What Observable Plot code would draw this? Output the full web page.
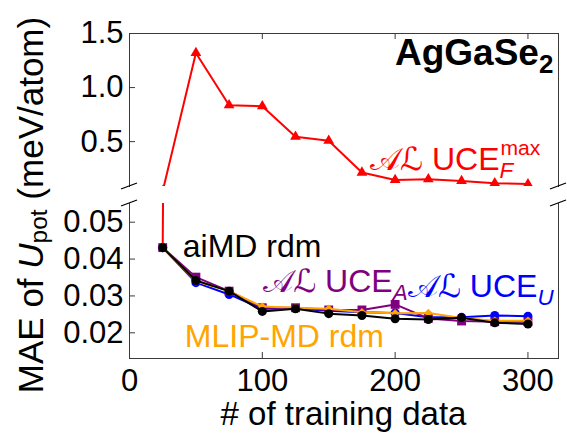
<!DOCTYPE html>
<html>
<head>
<meta charset="utf-8">
<script src="https://cdn.jsdelivr.net/npm/d3@7"></script>
<script src="https://cdn.jsdelivr.net/npm/@observablehq/plot@0.6"></script>
<style>
  body { margin: 0; background: white; }
  #chart { position: relative; width: 567px; height: 434px; background: white; }
  #ylab { position: absolute; left: 30px; top: 205px; transform: translate(-50%, -50%) rotate(-90deg);
          white-space: nowrap; font-family: "Liberation Sans", Arial, sans-serif; font-size: 35px; line-height: 1; color: black; }
  #ylab sub { font-size: 0.7em; position: relative; top: 0.15em; vertical-align: baseline; line-height: 0; }
</style>
</head>
<body>
<div id="chart"><div id="ylab">MAE of <i>U</i><sub>pot</sub> (meV/atom)</div></div>
<script>
// ---------- data ----------
const trainingData = [25, 50, 75, 100, 125, 150, 175, 200, 225, 250, 275, 300];
const uceFmax = [0.043, 1.32, 0.837, 0.828, 0.545, 0.508, 0.214, 0.146, 0.153, 0.137, 0.116, 0.107];
const aimdRdm = [0.0431, 0.0342, 0.0313, 0.0258, 0.0265, 0.0252, 0.0247, 0.0238, 0.0236, 0.0241, 0.0227, 0.0224];
const uceA    = [0.0431, 0.0351, 0.0313, 0.0268, 0.0268, 0.0262, 0.0262, 0.0277, 0.0239, 0.0232, 0.0230, 0.0230];
const uceU    = [0.0431, 0.0336, 0.0304, 0.0265, 0.0266, 0.0260, 0.0256, 0.0254, 0.0242, 0.0242, 0.0247, 0.0245];
const mlipRdm = [0.0431, 0.0340, 0.0313, 0.0271, 0.0268, 0.0265, 0.0256, 0.0253, 0.0254, 0.0240, 0.0233, 0.0233];
const xTicks = [0, 100, 200, 300];
const topTicks = [0.5, 1.0, 1.5];
const bottomTicks = [0.02, 0.03, 0.04, 0.05];
const xDomain = [0, 323];
const topDomain = [0.085, 1.5];
const bottomDomain = [0.01303, 0.05507];

const rows = vals => trainingData.map((x, i) => ({x, y: vals[i]}));
const FONT = "Liberation Sans, Arial, sans-serif";
const CAL = "DejaVu Serif, DejaVu Sans, serif";
const frameColor = "#3a3a3a";

// rich text annotation (baseline positioned) through the plot's scales
function rich(parts, o) {
  return (index, scales, values, dims) => {
    const fs = o.fontSize;
    const px = o.frameCenter ? (dims.marginLeft + (dims.width - dims.marginRight)) / 2 : scales.x(o.x);
    const py = o.frameBottom ? dims.height - dims.marginBottom + o.dy : scales.y(o.y);
    const t = d3.create("svg:text")
      .attr("x", px).attr("y", py)
      .attr("fill", o.fill || "black")
      .attr("font-family", FONT)
      .attr("font-size", fs)
      .attr("font-weight", o.weight || "normal")
      .attr("text-anchor", o.anchor || "start");
    let shift = 0;
    for (const p of parts) {
      const ts = t.append("tspan").text(p.t);
      const target = (p.shift || 0) * fs;
      const dy = target - shift; shift = target;
      if (dy) ts.attr("dy", dy);
      if (p.size) ts.attr("font-size", p.size * fs);
      if (p.italic) ts.attr("font-style", "italic");
      if (p.dx) ts.attr("dx", p.dx * fs);
      if (p.family) ts.attr("font-family", p.family);
    }
    const g = d3.create("svg:g");
    g.node().appendChild(t.node());
    return g.node();
  };
}

function breakMarks(where) {
  return (index, scales, values, dims) => {
    const y = where === "bottom" ? dims.height - dims.marginBottom : dims.marginTop;
    const xl = dims.marginLeft, xr = dims.width - dims.marginRight;
    const g = d3.create("svg:g").attr("stroke", "black").attr("stroke-width", 1.3);
    for (const x of [xl, xr]) {
      g.append("line").attr("x1", x - 8).attr("y1", y + 3).attr("x2", x + 8).attr("y2", y - 3);
    }
    return g.node();
  };
}

const W = 567;

// ---------- top panel ----------
const topPlot = Plot.plot({
  width: W, height: 190,
  marginTop: 33, marginBottom: 4, marginLeft: 129, marginRight: 9,
  x: {domain: xDomain, axis: null},
  y: {domain: topDomain},
  style: {fontFamily: FONT, background: "white", overflow: "visible"},
  marks: [
    Plot.axisY(topTicks, {tickSize: 0, tickPadding: 6, fontSize: 31, tickFormat: d3.format(".1f"), label: null}),
    Plot.frame({anchor: "top", stroke: frameColor}),
    Plot.frame({anchor: "left", stroke: frameColor}),
    Plot.frame({anchor: "right", stroke: frameColor}),
    Plot.ruleX(xTicks.filter(d => d > 0), {x: d => d, insetBottom: 147, stroke: frameColor}),
    Plot.ruleY(topTicks, {y: d => d, insetRight: 423, stroke: frameColor}),
    breakMarks("bottom"),
    Plot.line(rows(uceFmax), {x: "x", y: "y", stroke: "#ff0000", strokeWidth: 2, clip: true}),
    Plot.dot(rows(uceFmax), {x: "x", y: "y", symbol: "triangle", r: 4, fill: "#ff0000", clip: true}),
    rich([{t: "AgGaSe"}, {t: "2", size: 0.7, shift: 0.22}], {x: 319.5, y: 1.204, fontSize: 37, weight: "bold", anchor: "end"}),
    rich([{t: "𝒜ℒ", family: CAL, italic: false}, {t: " UCE"}, {t: "F", size: 0.7, shift: 0.25, italic: true},
          {t: "max", size: 0.66, shift: -0.47, dx: -0.4}],
         {x: 181.5, y: 0.2326, fontSize: 32, fill: "#ff0000"})
  ]
});

// ---------- bottom panel ----------
const bottomPlot = Plot.plot({
  width: W, height: 244,
  marginTop: 13, marginBottom: 76, marginLeft: 129, marginRight: 9,
  x: {domain: xDomain},
  y: {domain: bottomDomain},
  style: {fontFamily: FONT, background: "white", overflow: "visible"},
  marks: [
    Plot.axisY(bottomTicks, {tickSize: 0, tickPadding: 6, fontSize: 31, tickFormat: d3.format(".2f"), label: null}),
    Plot.axisX(xTicks, {tickSize: 0, tickPadding: 10, fontSize: 31, label: null}),
    Plot.frame({anchor: "bottom", stroke: frameColor}),
    Plot.frame({anchor: "left", stroke: frameColor}),
    Plot.frame({anchor: "right", stroke: frameColor}),
    Plot.ruleX(xTicks.filter(d => d > 0), {x: d => d, insetTop: 149, stroke: frameColor}),
    Plot.ruleY(bottomTicks, {y: d => d, insetRight: 423, stroke: frameColor}),
    breakMarks("top"),
    Plot.line(rows(uceFmax), {x: "x", y: "y", stroke: "#ff0000", strokeWidth: 2, clip: true}),
    Plot.line(rows(uceU), {x: "x", y: "y", stroke: "#0000ff", strokeWidth: 2}),
    Plot.dot(rows(uceU), {x: "x", y: "y", r: 4.5, fill: "#0000ff"}),
    Plot.line(rows(uceA), {x: "x", y: "y", stroke: "#800080", strokeWidth: 2}),
    Plot.dot(rows(uceA), {x: "x", y: "y", symbol: "square", r: 5, fill: "#800080"}),
    Plot.line(rows(mlipRdm), {x: "x", y: "y", stroke: "#ffa500", strokeWidth: 2}),
    Plot.dot(rows(mlipRdm), {x: "x", y: "y", symbol: "diamond2", r: 3.8, fill: "#ffa500"}),
    Plot.line(rows(aimdRdm), {x: "x", y: "y", stroke: "black", strokeWidth: 2}),
    Plot.dot(rows(aimdRdm), {x: "x", y: "y", r: 4.5, fill: "black"}),
    rich([{t: "aiMD rdm"}], {x: 40.5, y: 0.0404, fontSize: 32, fill: "black"}),
    rich([{t: "𝒜ℒ", family: CAL}, {t: " UCE"}, {t: "A", size: 0.7, shift: 0.25, italic: true}],
         {x: 101, y: 0.0309, fontSize: 32, fill: "#800080"}),
    rich([{t: "𝒜ℒ", family: CAL}, {t: " UCE"}, {t: "U", size: 0.7, shift: 0.25, italic: true}],
         {x: 210, y: 0.0295, fontSize: 32, fill: "#0000ff"}),
    rich([{t: "MLIP-MD rdm"}], {x: 42, y: 0.0160, fontSize: 32, fill: "#ffa500"}),
    rich([{t: "# of training data"}], {frameCenter: true, frameBottom: true, dy: 67, fontSize: 33, anchor: "middle"})
  ]
});

const chart = document.getElementById("chart");
topPlot.style.display = "block";
bottomPlot.style.display = "block";
chart.appendChild(topPlot);
chart.appendChild(bottomPlot);
</script>
</body>
</html>
